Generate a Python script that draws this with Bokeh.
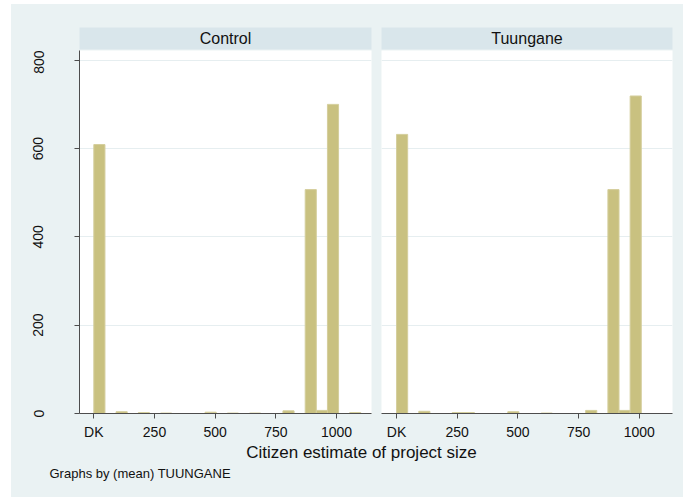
import numpy as np
from bokeh.plotting import figure
from bokeh.models import Range1d, FixedTicker, Label
from bokeh.layouts import row, column
from bokeh.embed import file_html
from bokeh.resources import INLINE

# ---- data -------------------------------------------------------------
panels = ["Control", "Tuungane"]
bin_start = 0.0
bin_width = 1100.0 / 24
control_counts = [609, 0, 4, 0, 2, 0, 1, 0, 0, 0, 3, 0, 1, 0, 1, 0, 0, 6, 0, 507, 7, 700, 0, 2]
tuungane_counts = [632, 0, 5, 0, 0, 2, 2, 0, 0, 0, 4, 0, 0, 1, 0, 0, 0, 7, 0, 507, 7, 719, 0, 0]
x_ticks = [0, 250, 500, 750, 1000]
x_tick_labels = ["DK", "250", "500", "750", "1000"]
y_ticks = [0, 200, 400, 600, 800]
x_title = "Citizen estimate of project size"
note = "Graphs by (mean) TUUNGANE"

# ---- style ------------------------------------------------------------
BG = "#EAF2F3"
HDR = "#D9E6EB"
BAR = "#C9C180"
BAR_LINE = "#D4CE9C"
AXIS = "#4d4d4d"
GRID = "#E6EEF0"
FONT = "Liberation Sans"
TXT = "#111111"

def header_fig(title, width, left, right):
    h = figure(width=width, height=46, x_range=Range1d(0, 1), y_range=Range1d(0, 1),
               output_backend="svg", toolbar_location=None,
               min_border_left=left, min_border_right=right,
               min_border_top=23, min_border_bottom=1)
    h.axis.visible = False
    h.grid.visible = False
    h.outline_line_color = None
    h.background_fill_color = HDR
    h.border_fill_color = BG
    h.add_layout(Label(x=0.5, y=0.5, text=title, text_align="center", text_baseline="middle",
                       text_font=FONT, text_font_size="16px", text_color=TXT))
    return h

def panel_fig(counts, width, left, right, xr, show_y):
    p = figure(width=width, height=393, x_range=Range1d(*xr), y_range=Range1d(0, 822),
               output_backend="svg", toolbar_location=None,
               min_border_left=left, min_border_right=right,
               min_border_top=0, min_border_bottom=30)
    p.outline_line_color = None
    p.background_fill_color = "white"
    p.border_fill_color = BG
    c = np.array(counts, dtype=float)
    edges = bin_start + bin_width * np.arange(len(c) + 1)
    m = c > 0
    p.quad(left=edges[:-1][m], right=edges[1:][m], top=c[m], bottom=0,
           fill_color=BAR, line_color=BAR_LINE, line_width=1)
    p.xgrid.visible = False
    p.ygrid.ticker = FixedTicker(ticks=y_ticks)
    p.ygrid.grid_line_color = GRID
    p.ygrid.grid_line_width = 1
    xa = p.xaxis[0]
    xa.ticker = FixedTicker(ticks=x_ticks)
    xa.major_label_overrides = {t: l for t, l in zip(x_ticks, x_tick_labels)}
    xa.major_tick_out = 5
    xa.major_tick_in = 0
    xa.minor_tick_out = 0
    xa.minor_tick_in = 0
    xa.axis_line_color = AXIS
    xa.major_tick_line_color = AXIS
    xa.major_label_text_font = FONT
    xa.major_label_text_font_size = "14px"
    xa.major_label_text_color = TXT
    xa.major_label_standoff = 5
    ya = p.yaxis[0]
    if show_y:
        ya.ticker = FixedTicker(ticks=y_ticks)
        ya.major_tick_out = 5
        ya.major_tick_in = 0
        ya.minor_tick_out = 0
        ya.minor_tick_in = 0
        ya.axis_line_color = AXIS
        ya.major_tick_line_color = AXIS
        ya.major_label_orientation = "vertical"
        ya.major_label_text_font = FONT
        ya.major_label_text_font_size = "14px"
        ya.major_label_text_color = TXT
        ya.major_label_standoff = 31
    else:
        ya.visible = False
    return p

h1 = header_fig(panels[0], 365, 68, 5)
h2 = header_fig(panels[1], 307, 5, 11)
p1 = panel_fig(control_counts, 365, 68, 5, (-59, 1144), True)
p2 = panel_fig(tuungane_counts, 307, 5, 11, (-62, 1137), False)

b = figure(width=672, height=54, x_range=Range1d(0, 672), y_range=Range1d(54, 0),
           output_backend="svg", toolbar_location=None,
           min_border_left=0, min_border_right=0, min_border_top=0, min_border_bottom=0)
b.axis.visible = False
b.grid.visible = False
b.outline_line_color = None
b.background_fill_color = BG
b.border_fill_color = BG
b.add_layout(Label(x=350, y=9, text=x_title, text_align="center", text_baseline="middle",
                   text_font=FONT, text_font_size="17px", text_color=TXT))
b.add_layout(Label(x=38, y=30, text=note, text_align="left", text_baseline="middle",
                   text_font=FONT, text_font_size="13px", text_color=TXT))

bg_style = {"background-color": BG}
layout = column(row(h1, h2, spacing=0, styles=bg_style),
                row(p1, p2, spacing=0, styles=bg_style),
                b, spacing=0, margin=(4, 0, 0, 11), styles=bg_style)

open("out.html", "w").write(file_html(layout, INLINE))
